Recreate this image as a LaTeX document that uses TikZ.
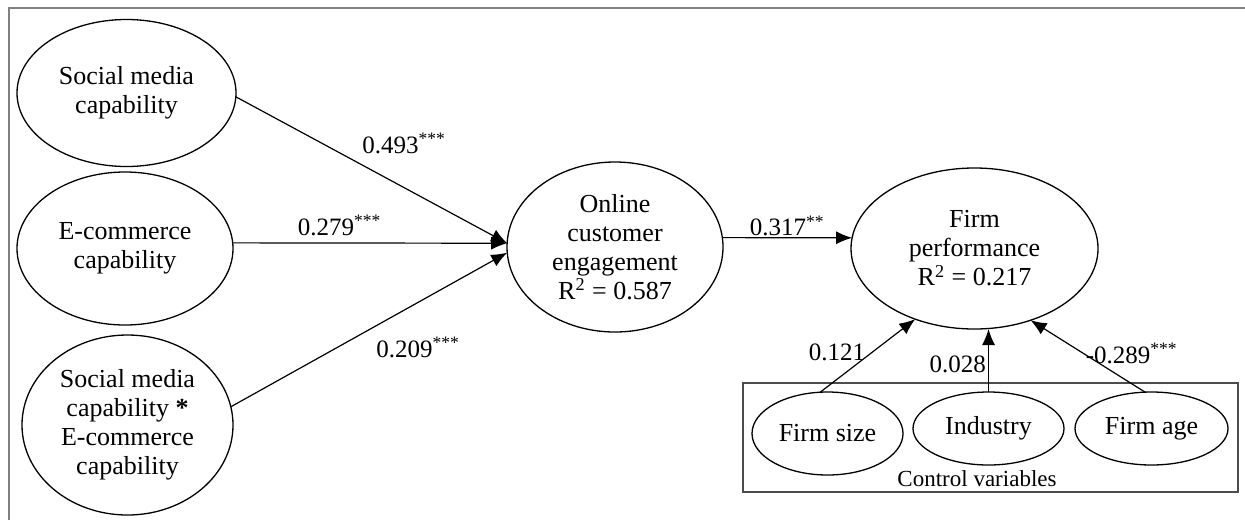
\documentclass[tikz,border=0pt]{standalone}
\usepackage{fontspec}
\setmainfont{Liberation Serif}
\usetikzlibrary{arrows.meta,shapes.geometric}

\tikzset{
	var/.style={draw,ellipse,inner sep=0pt,outer sep=0pt,align=center,line width=0.65pt,font=\fontsize{13}{14.5}\selectfont},
	lbl/.style={font=\fontsize{12.5}{14}\selectfont},
}

\begin{document}
\begin{tikzpicture}[x=0.5pt,y=-0.5pt,>={Latex[length=8pt,width=6.5pt]},line width=0.6pt]
	\useasboundingbox (0,0) rectangle (1245,520);
	\draw[gray,line width=1pt] (9,520) -- (9,8) -- (1245,8);
	\node[var,minimum width=109.5pt,minimum height=73.5pt] (A) at (126.5,93) {Social media\\capability};
	\node[var,minimum width=108pt,minimum height=76.5pt] (B) at (125,248.5) {E-commerce\\capability};
	\node[var,minimum width=105.5pt,minimum height=90pt] (C) at (127.5,425) {Social media\\capability \textbf{*}\\E-commerce\\capability};
	\node[var,minimum width=108pt,minimum height=85pt] (D) at (615,247) {Online\\customer\\engagement\\R\textsuperscript{2} = 0.587};
	\node[var,minimum width=123.5pt,minimum height=80.5pt] (E) at (974.5,248.5) {Firm\\performance\\R\textsuperscript{2} = 0.217};
	\draw[black!70,line width=0.9pt] (743,383) rectangle (1238,492);
	\node[var,minimum width=75.5pt,minimum height=41.5pt] (F) at (827.5,433.5) {Firm size};
	\node[var,minimum width=75.5pt,minimum height=36.5pt] (G) at (988.5,428.5) {Industry};
	\node[var,minimum width=76.5pt,minimum height=36.5pt] (H) at (1151.5,428.5) {Firm age};
	\node[font=\fontsize{11.5}{13}\selectfont] (K) at (977,479) {Control variables};
	\draw[->] (A.-2)--(D.178) node[pos=0.44,anchor=south west,lbl] {0.493\textsuperscript{***}};
	\draw[->] (B.3)--(D.178) node[pos=0.39,above,lbl] {0.279\textsuperscript{***}};
	\draw[->] (C.10)--(D.183) node[pos=0.5,anchor=north west,lbl] {0.209\textsuperscript{***}};
	\draw[->] (D.5)--(E.175) node[midway,above,inner sep=0.5pt,lbl] {0.317\textsuperscript{**}};
	\draw[->] (F.100)--(E.230) node[pos=0.55,left,lbl] {0.121};
	\draw[->] (G.north)--(G.north |- E.south) node[pos=0.44,left,inner sep=1pt,lbl] {0.028};
	\draw[->] (H.100)--(E.-52) node[pos=0.54,right,inner sep=1pt,lbl] {-0.289\textsuperscript{***}};
\end{tikzpicture}
\end{document}
